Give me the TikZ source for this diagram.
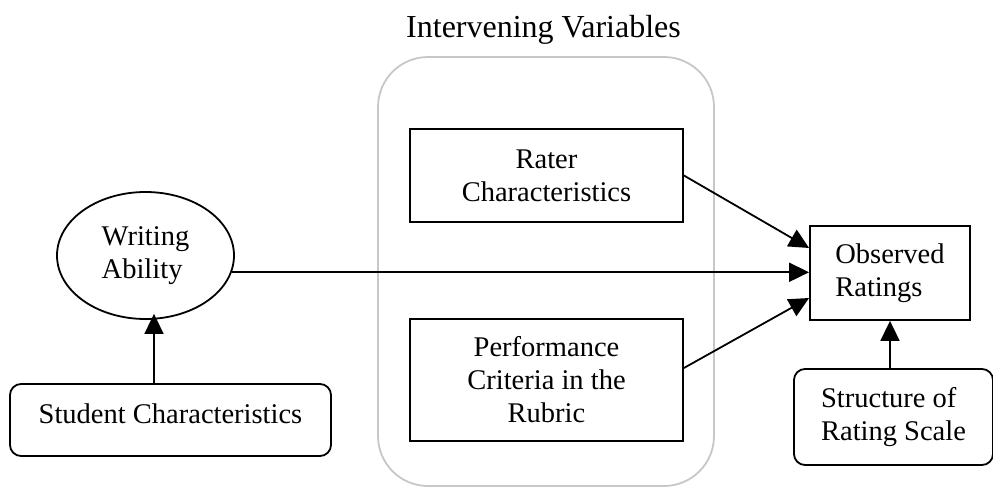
\documentclass[tikz,border=0pt]{standalone}
\usepackage{fontspec}
\setmainfont{Liberation Serif}
\usetikzlibrary{arrows.meta,shapes.geometric}

\begin{document}
\begin{tikzpicture}[x=1pt,y=-1pt,
  every node/.style={font=\fontsize{28.5}{33}\selectfont},
  box/.style={draw, line width=1.8pt, inner sep=0pt},
  roundbox/.style={box, rounded corners=11pt},
  arr/.style={line width=1.8pt, -{Triangle[length=20pt,width=19pt]}},
]
\useasboundingbox (0,0) rectangle (993,487);

% heading and the grey frame of the intervening variables
\node[font=\fontsize{32}{38}\selectfont, anchor=base] (title) at (543.5,38) {Intervening Variables};
\node[draw=black!22, line width=1.8pt, rounded corners=50pt,
      minimum width=336pt, minimum height=429pt] (group) at (546,271.5) {};

% intervening variables
\node[box, minimum width=273pt, minimum height=93pt, align=center]
  (rater) at (546.5,175.5) {Rater\\Characteristics};
\node[box, minimum width=273pt, minimum height=122pt, align=center]
  (perf) at (546.5,380) {Performance\\Criteria in the\\Rubric};

% latent trait and its source
\node[draw, ellipse, line width=1.8pt, inner sep=0pt,
      minimum width=177pt, minimum height=127pt, align=left]
  (wa) at (145.5,255.5) {Writing\\Ability};
\node[roundbox, minimum width=321pt, minimum height=72pt,
      text height=20pt, text depth=14pt]
  (student) at (170.5,420) {Student Characteristics};

% outcome and scale structure
\node[box, minimum width=160pt, minimum height=94pt, align=left]
  (obs) at (890,273) {Observed\\Ratings};
\node[roundbox, minimum width=199pt, minimum height=96pt, align=left]
  (struct) at (893.5,417) {Structure of\\Rating Scale};

% connectors
\coordinate (waout) at (wa.-11.6);
\draw[arr] (rater.east) -- ([yshift=25pt]obs.west);
\draw[arr] (waout) -- (waout -| obs.west);
\draw[arr] ([yshift=12pt]perf.east) -- ([yshift=-25pt]obs.west);
\draw[arr] (obs.south |- struct.north) -- (obs.south);
\draw[arr] ([xshift=-16.5pt]student.north) -- ([xshift=8.5pt,yshift=6pt]wa.south);
\end{tikzpicture}
\end{document}
